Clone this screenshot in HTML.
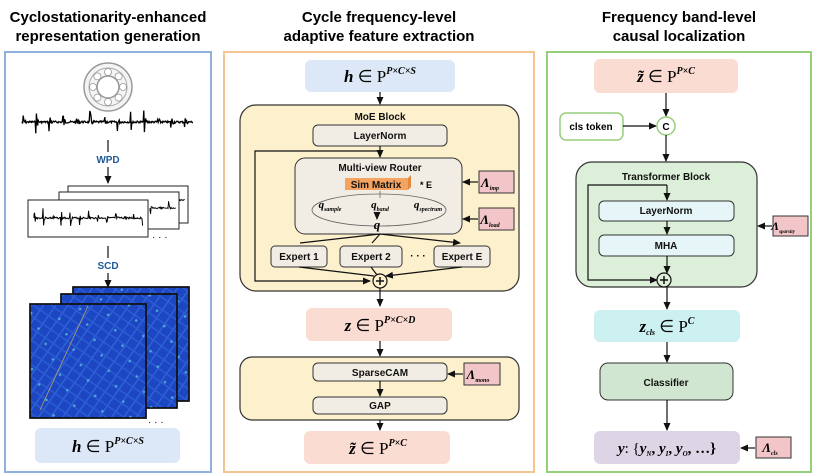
<!DOCTYPE html>
<html><head><meta charset="utf-8"><style>
html,body{margin:0;padding:0;background:#fff;}
svg{display:block;font-family:"Liberation Sans",Arial,sans-serif;}
.t{font-weight:bold;font-size:15px;text-anchor:middle;fill:#000}
.b{font-weight:bold;font-size:10px;text-anchor:middle;fill:#111}
.m{font-family:"Liberation Serif",serif;font-weight:bold;font-style:italic;text-anchor:middle;fill:#000}
.ln{stroke:#111;stroke-width:1.2;fill:none}
</style></head><body>
<svg width="816" height="476" viewBox="0 0 816 476" xmlns="http://www.w3.org/2000/svg">
<defs>
<marker id="a" markerWidth="8" markerHeight="8" refX="7" refY="4" orient="auto" markerUnits="userSpaceOnUse"><path d="M0,0.5 L8,4 L0,7.5 z" fill="#111"/></marker>
<pattern id="hm" width="10" height="10" patternUnits="userSpaceOnUse" patternTransform="rotate(35)">
<rect width="10" height="10" fill="#1c46c2"/><rect x="0" width="1.5" height="10" fill="#2d62d6"/><rect y="0" width="10" height="1.5" fill="#2b5cd2"/></pattern>
<pattern id="hm2" width="23" height="17" patternUnits="userSpaceOnUse" patternTransform="rotate(-25)">
<rect width="23" height="17" fill="none"/><circle cx="11" cy="8" r="1.3" fill="#59c0d8" opacity="0.8"/></pattern>
</defs>
<text class="t" x="108" y="22">Cyclostationarity-enhanced</text>
<text class="t" x="108" y="41">representation generation</text>
<text class="t" x="379" y="22">Cycle frequency-level</text>
<text class="t" x="379" y="41">adaptive feature extraction</text>
<text class="t" x="679" y="22">Frequency band-level</text>
<text class="t" x="679" y="41">causal localization</text>
<rect x="5" y="52" width="206" height="420" fill="#fff" stroke="#8fb0dc" stroke-width="2"/>
<rect x="224" y="52" width="310" height="420" fill="#fff" stroke="#f4c590" stroke-width="2"/>
<rect x="547" y="52" width="264" height="420" fill="#fff" stroke="#96cf7a" stroke-width="2"/>

<!-- LEFT -->
<circle cx="108" cy="87" r="24" fill="#f4f4f4" stroke="#999" stroke-width="1.5"/>
<circle cx="108" cy="87" r="19" fill="none" stroke="#aaa" stroke-width="1"/>
<circle cx="108" cy="87" r="11" fill="#fff" stroke="#999" stroke-width="1.5"/>
<g fill="#fff" stroke="#999" stroke-width="0.8">
<circle cx="108" cy="72" r="3.5"/><circle cx="118.6" cy="76.4" r="3.5"/><circle cx="123" cy="87" r="3.5"/><circle cx="118.6" cy="97.6" r="3.5"/><circle cx="108" cy="102" r="3.5"/><circle cx="97.4" cy="97.6" r="3.5"/><circle cx="93" cy="87" r="3.5"/><circle cx="97.4" cy="76.4" r="3.5"/></g>
<path id="sig" d="" stroke="#000" stroke-width="1.3" fill="none"/>
<line x1="108" y1="140" x2="108" y2="152" class="ln"/>
<text x="108" y="163" font-size="10" font-weight="bold" fill="#1f5a96" text-anchor="middle">WPD</text>
<line x1="108" y1="167" x2="108" y2="183" class="ln" marker-end="url(#a)"/>
<rect x="68" y="186" width="120" height="37" fill="#fff" stroke="#222"/>
<path id="sig3" d="" stroke="#000" stroke-width="0.9" fill="none"/>
<rect x="59" y="192" width="120" height="37" fill="#fff" stroke="#222"/>
<path id="sig4" d="" stroke="#000" stroke-width="0.9" fill="none"/>
<rect x="28" y="200" width="120" height="37" fill="#fff" stroke="#222"/>
<path id="sig2" d="" stroke="#000" stroke-width="1" fill="none"/>
<text x="152" y="240" font-size="10">· · ·</text>
<line x1="108" y1="246" x2="108" y2="258" class="ln"/>
<text x="108" y="269" font-size="10" font-weight="bold" fill="#1f5a96" text-anchor="middle">SCD</text>
<line x1="108" y1="273" x2="108" y2="287" class="ln" marker-end="url(#a)"/>
<g stroke="#111" stroke-width="1.5">
<rect x="73" y="287" width="116" height="114" fill="url(#hm)"/>
<rect x="73" y="287" width="116" height="114" fill="url(#hm2)"/>
<rect x="61" y="294" width="116" height="114" fill="url(#hm)"/>
<rect x="61" y="294" width="116" height="114" fill="url(#hm2)"/>
<rect x="30" y="304" width="116" height="114" fill="url(#hm)"/>
<rect x="30" y="304" width="116" height="114" fill="url(#hm2)"/>
</g>
<line x1="40" y1="410" x2="88" y2="306" stroke="#b8a070" stroke-width="0.8"/>
<text x="148" y="425" font-size="10">· · ·</text>
<rect x="35" y="428" width="145" height="35" rx="6" fill="#dce8f7"/>
<text class="m" x="108" y="452" font-size="17">h<tspan font-style="normal" font-weight="normal"> ∈ P</tspan><tspan font-size="10" dy="-8">P×C×S</tspan></text>

<!-- MIDDLE -->
<rect x="305" y="60" width="150" height="32" rx="6" fill="#dce8f7"/>
<text class="m" x="380" y="82" font-size="17">h<tspan font-style="normal" font-weight="normal"> ∈ P</tspan><tspan font-size="10" dy="-8">P×C×S</tspan></text>
<line x1="380" y1="92" x2="380" y2="104" class="ln" marker-end="url(#a)"/>
<rect x="240" y="105" width="279" height="186" rx="16" fill="#fdf0cc" stroke="#333" stroke-width="1.2"/>
<text class="b" x="380" y="120" font-size="11">MoE Block</text>
<rect x="313" y="125" width="134" height="21" rx="5" fill="#f1ede4" stroke="#333"/>
<text class="b" x="380" y="139" font-size="9">LayerNorm</text>
<line x1="380" y1="146" x2="380" y2="157" class="ln" marker-end="url(#a)"/>
<path d="M380,151 L255,151 L255,281 L370,281" class="ln" marker-end="url(#a)"/>
<rect x="295" y="158" width="167" height="76" rx="10" fill="#f1ede4" stroke="#333"/>
<text class="b" x="380" y="171" font-size="9">Multi-view Router</text>
<rect x="345" y="178" width="63" height="12" fill="#f4a460"/>
<path d="M408,178 l3,-3 v12 l-3,3z" fill="#e08a40"/>
<text class="b" x="376" y="188" font-size="9">Sim Matrix</text>
<text x="420" y="188" font-size="9" font-weight="bold">* E</text>
<ellipse cx="379" cy="210" rx="67" ry="16" fill="none" stroke="#666" stroke-width="0.8"/>
<line x1="380" y1="191" x2="380" y2="198" stroke="#666" stroke-width="0.8"/>
<text class="m" x="330" y="208" font-size="11">q<tspan font-size="6" dy="3">sample</tspan></text>
<text class="m" x="380" y="208" font-size="11">q<tspan font-size="6" dy="3">band</tspan></text>
<text class="m" x="428" y="208" font-size="11">q<tspan font-size="6" dy="3">spectrum</tspan></text>
<line x1="377" y1="213" x2="377" y2="219" class="ln" marker-end="url(#a)"/>
<text class="m" x="377" y="229" font-size="13">q</text>
<line x1="478" y1="182" x2="463" y2="182" class="ln" marker-end="url(#a)"/>
<line x1="478" y1="219" x2="463" y2="219" class="ln" marker-end="url(#a)"/>
<rect x="479" y="171" width="35" height="22" fill="#f2c5c8" stroke="#333"/>
<text class="m" x="490" y="187" font-size="13">Λ<tspan font-size="6" dy="3">imp</tspan></text>
<rect x="479" y="208" width="35" height="22" fill="#f2c5c8" stroke="#333"/>
<text class="m" x="490" y="224" font-size="13">Λ<tspan font-size="6" dy="3">load</tspan></text>
<path d="M380,234 L300,243 M380,234 L372,243 M380,234 L460,243" class="ln" marker-end="url(#a)"/>
<rect x="271" y="246" width="56" height="21" rx="4" fill="#f1ede4" stroke="#333"/>
<text class="b" x="299" y="260" font-size="9">Expert 1</text>
<rect x="340" y="246" width="62" height="21" rx="4" fill="#f1ede4" stroke="#333"/>
<text class="b" x="371" y="260" font-size="9">Expert 2</text>
<text x="418" y="259" font-size="10" font-weight="bold" text-anchor="middle">· · ·</text>
<rect x="434" y="246" width="56" height="21" rx="4" fill="#f1ede4" stroke="#333"/>
<text class="b" x="462" y="260" font-size="9">Expert E</text>
<path d="M299,267 L374,276 M371,267 L377,275 M462,267 L386,276" class="ln" marker-end="url(#a)"/>
<circle cx="380" cy="281" r="7" fill="#fdf0cc" stroke="#111" stroke-width="1.2"/>
<path d="M376,281 h8 M380,277 v8" stroke="#111" stroke-width="1.5"/>
<line x1="380" y1="288" x2="380" y2="306" class="ln" marker-end="url(#a)"/>
<rect x="306" y="308" width="146" height="33" rx="6" fill="#fadcd2"/>
<text class="m" x="380" y="331" font-size="17">z<tspan font-style="normal" font-weight="normal"> ∈ P</tspan><tspan font-size="10" dy="-8">P×C×D</tspan></text>
<line x1="380" y1="341" x2="380" y2="356" class="ln" marker-end="url(#a)"/>
<rect x="240" y="357" width="279" height="63" rx="12" fill="#fdf0cc" stroke="#333" stroke-width="1.2"/>
<rect x="313" y="363" width="134" height="18" rx="5" fill="#f1ede4" stroke="#333"/>
<text class="b" x="380" y="376" font-size="9">SparseCAM</text>
<line x1="380" y1="381" x2="380" y2="396" class="ln" marker-end="url(#a)"/>
<rect x="313" y="397" width="134" height="17" rx="5" fill="#f1ede4" stroke="#333"/>
<text class="b" x="380" y="409" font-size="9">GAP</text>
<line x1="463" y1="374" x2="448" y2="374" class="ln" marker-end="url(#a)"/>
<rect x="464" y="363" width="36" height="22" fill="#f2c5c8" stroke="#333"/>
<text class="m" x="478" y="379" font-size="13">Λ<tspan font-size="6" dy="3">mono</tspan></text>
<line x1="380" y1="420" x2="380" y2="430" class="ln" marker-end="url(#a)"/>
<rect x="304" y="431" width="146" height="33" rx="6" fill="#fadcd2"/>
<text class="m" x="378" y="454" font-size="17">z̃<tspan font-style="normal" font-weight="normal"> ∈ P</tspan><tspan font-size="10" dy="-8">P×C</tspan></text>

<!-- RIGHT -->
<rect x="594" y="59" width="144" height="34" rx="6" fill="#fadcd2"/>
<text class="m" x="666" y="82" font-size="17">z̃<tspan font-style="normal" font-weight="normal"> ∈ P</tspan><tspan font-size="10" dy="-8">P×C</tspan></text>
<line x1="666" y1="93" x2="666" y2="116" class="ln" marker-end="url(#a)"/>
<rect x="560" y="113" width="63" height="27" rx="6" fill="#fff" stroke="#96cf7a" stroke-width="1.5"/>
<text x="591" y="130" font-size="10" font-weight="bold" text-anchor="middle">cls token</text>
<line x1="623" y1="126" x2="656" y2="126" class="ln" marker-end="url(#a)"/>
<circle cx="666" cy="126" r="9" fill="#fff" stroke="#96cf7a" stroke-width="1.5"/>
<text x="666" y="130" font-size="10" font-weight="bold" text-anchor="middle">C</text>
<line x1="666" y1="135" x2="666" y2="161" class="ln" marker-end="url(#a)"/>
<rect x="576" y="162" width="181" height="125" rx="16" fill="#dcefd9" stroke="#333" stroke-width="1.2"/>
<text class="b" x="666" y="180" font-size="10.5">Transformer Block</text>
<path d="M667,185 L588,185 L588,280 L657,280" class="ln" marker-end="url(#a)"/>
<line x1="667" y1="185" x2="667" y2="200" class="ln" marker-end="url(#a)"/>
<rect x="599" y="201" width="135" height="20" rx="5" fill="#e6f5f7" stroke="#333"/>
<text class="b" x="666" y="214" font-size="8.5">LayerNorm</text>
<line x1="667" y1="221" x2="667" y2="234" class="ln" marker-end="url(#a)"/>
<rect x="599" y="235" width="135" height="21" rx="5" fill="#e6f5f7" stroke="#333"/>
<text class="b" x="666" y="249" font-size="8.5">MHA</text>
<line x1="667" y1="256" x2="667" y2="273" class="ln" marker-end="url(#a)"/>
<circle cx="664" cy="280" r="7" fill="#dcefd9" stroke="#111" stroke-width="1.2"/>
<path d="M660,280 h8 M664,276 v8" stroke="#111" stroke-width="1.5"/>
<line x1="772" y1="226" x2="758" y2="226" class="ln" marker-end="url(#a)"/>
<rect x="773" y="216" width="35" height="20" fill="#f2c5c8" stroke="#333"/>
<text class="m" x="783" y="230" font-size="12">Λ<tspan font-size="5" dy="3">sparsity</tspan></text>
<line x1="667" y1="287" x2="667" y2="309" class="ln" marker-end="url(#a)"/>
<rect x="594" y="310" width="146" height="32" rx="6" fill="#cdf1f1"/>
<text class="m" x="667" y="332" font-size="17">z<tspan font-size="8" dy="3">cls</tspan><tspan font-style="normal" font-weight="normal" dy="-3"> ∈ P</tspan><tspan font-size="10" dy="-8">C</tspan></text>
<line x1="667" y1="342" x2="667" y2="362" class="ln" marker-end="url(#a)"/>
<rect x="600" y="363" width="133" height="37" rx="8" fill="#d0e6d0" stroke="#333"/>
<text class="b" x="666" y="386" font-size="11">Classifier</text>
<line x1="667" y1="400" x2="667" y2="430" class="ln" marker-end="url(#a)"/>
<rect x="594" y="431" width="146" height="33" rx="6" fill="#ddd4e6"/>
<text class="m" x="667" y="453" font-size="15">y<tspan font-style="normal" font-weight="normal">: {</tspan>y<tspan font-size="7" dy="3">N</tspan><tspan dy="-3" font-style="normal">, </tspan>y<tspan font-size="7" dy="3">I</tspan><tspan dy="-3" font-style="normal">, </tspan>y<tspan font-size="7" dy="3">O</tspan><tspan dy="-3" font-style="normal">, …}</tspan></text>
<line x1="755" y1="448" x2="741" y2="448" class="ln" marker-end="url(#a)"/>
<rect x="756" y="437" width="35" height="21" fill="#f2c5c8" stroke="#333"/>
<text class="m" x="770" y="452" font-size="13">Λ<tspan font-size="6" dy="3">cls</tspan></text>
</svg>
<script>
function gen(x0,x1,yc,amp,per,seed){var s=seed,d="M"+x0+","+yc;function r(){s=(s*9301+49297)%233280;return s/233280;}
for(var x=x0;x<=x1;x+=0.6){var ph=((x-x0)%per)/per;var env=ph<0.06?1:Math.exp(-(ph-0.06)*14);var a=amp*(0.08+0.92*env)*(r()*2-1);d+=" L"+x.toFixed(1)+","+(yc+a).toFixed(1);}return d;}
document.getElementById("sig").setAttribute("d",gen(22,193,122,12,13.5,7));
document.getElementById("sig2").setAttribute("d",gen(34,143,218,10,9,3));
document.getElementById("sig3").setAttribute("d",gen(150,185,200,8,9,5));
document.getElementById("sig4").setAttribute("d",gen(150,176,208,8,9,11));
</script>
</body></html>
